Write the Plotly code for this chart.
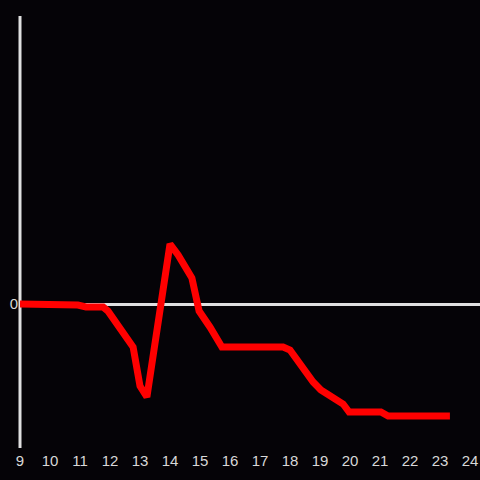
import plotly.graph_objects as go

hours = [9.0, 10.73, 10.93, 11.2, 11.77, 11.93, 12.77, 13.0, 13.23, 14.0, 14.27, 14.73,
         14.97, 15.33, 15.73, 17.77, 18.0, 18.77, 19.03, 19.77, 19.97, 21.03, 21.27, 23.33]
values = [0, 0, -1, -3, -3, -7, -43, -82, -93, 60, 49, 26,
          -7, -23, -43, -43, -46, -78, -86, -100, -108, -108, -112, -112]
x_ticks = list(range(9, 25))
y_ticks = [0]

bg = "#050307"
axis_col = "#e0e0e0"

fig = go.Figure(go.Scatter(x=hours, y=values, mode="lines",
                           line=dict(color="#ff0000", width=7), hoverinfo="skip"))

fig.update_layout(
    width=480, height=480,
    margin=dict(l=20, r=0, t=16, b=32),
    paper_bgcolor=bg, plot_bgcolor=bg,
    showlegend=False,
    font=dict(family="Liberation Sans, Arial, sans-serif", size=15, color="#d8d8d8"),
    shapes=[dict(type="line", xref="paper", yref="paper", x0=0, x1=0, y0=0, y1=1,
                 line=dict(color=axis_col, width=3), layer="below")],
)
fig.update_xaxes(range=[9, 24.333], tickvals=x_ticks, ticktext=[str(t) for t in x_ticks],
                 showgrid=False, zeroline=False, showline=False, ticks="", ticklen=0,
                 ticklabelstandoff=2)
fig.update_yaxes(range=[-144, 288], tickvals=y_ticks, ticktext=["0"],
                 showgrid=False, zeroline=True, zerolinecolor=axis_col, zerolinewidth=3,
                 showline=False, ticks="", layer="below traces", ticklabelstandoff=1)

fig.write_html("out.html", config={"displayModeBar": False},
               post_script="document.body.style.margin='0';document.body.style.background='#050307';")
